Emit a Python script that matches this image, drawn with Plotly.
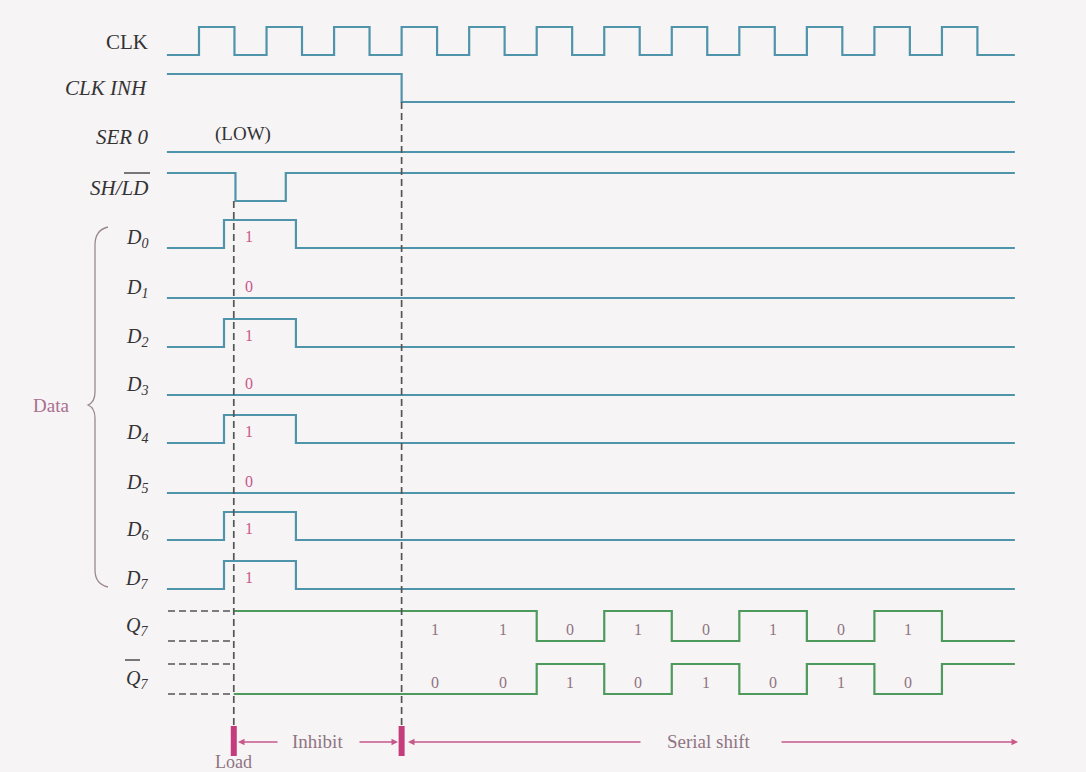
import plotly.graph_objects as go

# ---------------- data ----------------
T_START, T_END = -0.95, 24.16
CLK_TIMES = [-0.95, 0, 1.05, 2, 3.05, 4, 5.05, 6, 7.05, 8, 9.05, 10, 11.05,
             12, 13.05, 14, 15.05, 16, 17.05, 18, 19.05, 20, 21.05, 22, 23.05, 24.16]
CLK_LEVELS = [0, 1, 0, 1, 0, 1, 0, 1, 0, 1, 0, 1, 0,
              1, 0, 1, 0, 1, 0, 1, 0, 1, 0, 1, 0, 0]
INH_TIMES = [-0.95, 6.0, 24.16]
INH_LEVELS = [1, 0, 0]
SER_TIMES = [-0.95, 24.16]
SER_LEVELS = [0, 0]
SHLD_TIMES = [-0.95, 1.08, 2.57, 24.16]
SHLD_LEVELS = [1, 0, 1, 1]
DATA_NAMES = ["D<sub>0</sub>", "D<sub>1</sub>", "D<sub>2</sub>", "D<sub>3</sub>",
              "D<sub>4</sub>", "D<sub>5</sub>", "D<sub>6</sub>", "D<sub>7</sub>"]
DATA_BITS = [1, 0, 1, 0, 1, 0, 1, 1]
D_PULSE = [0.74, 2.87]
LOAD_T = 1.03
INHIBIT_END_T = 6.0
SHIFT_EDGES = [6, 8, 10, 12, 14, 16, 18, 20, 22]
SERIAL_BITS = [1, 1, 0, 1, 0, 1, 0, 1]
Q7_AFTER = 0

# ---------------- layout constants ----------------
W, H = 1086, 772
T0_PX, PX_PER_T = 199.0, 33.77


def tx(px):
    return (px - T0_PX) / PX_PER_T


BLUE = "#4f94aa"
GREEN = "#4e9a5c"
DASH_C = "#555555"
PINK = "#c8588a"
MAG = "#c43c7c"
LBL = "#333333"
GREYPINK = "#8f7482"

ROW_LOW = {"CLK": 55, "INH": 102, "SER": 152, "SHLD": 201}
D_LOW = [248, 298, 347, 395, 443, 493, 540, 589]
AMP = 28
Q7_LOW, Q7B_LOW, Q_AMP = 641, 694, 30

fig = go.Figure()


def wave(times, levels, low, amp, color, dash="solid", width=2.2):
    fig.add_trace(go.Scatter(
        x=times, y=[low - amp * v for v in levels], mode="lines",
        line=dict(color=color, width=width, shape="hv", dash=dash),
        hoverinfo="skip", showlegend=False))


wave(CLK_TIMES, CLK_LEVELS, ROW_LOW["CLK"], AMP, BLUE)
wave(INH_TIMES, INH_LEVELS, ROW_LOW["INH"], AMP, BLUE)
wave(SER_TIMES, SER_LEVELS, ROW_LOW["SER"], AMP, BLUE)
wave(SHLD_TIMES, SHLD_LEVELS, ROW_LOW["SHLD"], AMP, BLUE)

for i, b in enumerate(DATA_BITS):
    if b:
        wave([T_START, D_PULSE[0], D_PULSE[1], T_END], [0, 1, 0, 0], D_LOW[i], AMP, BLUE)
    else:
        wave([T_START, T_END], [0, 0], D_LOW[i], AMP, BLUE)

# Q7 / Q7bar
q_times = [LOAD_T] + SHIFT_EDGES + [T_END]
q_levels = [DATA_BITS[7]] + SERIAL_BITS + [Q7_AFTER, Q7_AFTER]
wave(q_times, q_levels, Q7_LOW, Q_AMP, GREEN)
wave(q_times, [1 - v for v in q_levels], Q7B_LOW, Q_AMP, GREEN)
# unknown lead-in (dashed)
for low in (Q7_LOW, Q7B_LOW):
    for lvl in (0, 1):
        fig.add_trace(go.Scatter(
            x=[tx(168), LOAD_T], y=[low - Q_AMP * lvl] * 2, mode="lines",
            line=dict(color=DASH_C, width=1.7, dash="7px,4px"),
            hoverinfo="skip", showlegend=False))

# vertical dashed markers
for t, y0 in ((LOAD_T, ROW_LOW["SHLD"]), (INHIBIT_END_T, ROW_LOW["INH"])):
    fig.add_trace(go.Scatter(
        x=[t, t], y=[y0, 728], mode="lines",
        line=dict(color=DASH_C, width=1.7, dash="7px,4px"),
        hoverinfo="skip", showlegend=False))
    fig.add_trace(go.Scatter(
        x=[t, t], y=[726, 756], mode="lines",
        line=dict(color=MAG, width=6),
        hoverinfo="skip", showlegend=False))

ann = []
SERIF = "Liberation Serif"


def label(text, y, italic=True, size=21):
    ann.append(dict(x=tx(150), y=y, text=(f"<i>{text}</i>" if italic else text),
                    xanchor="right", yanchor="middle", showarrow=False,
                    font=dict(family=SERIF, size=size, color=LBL)))


label("CLK", 42, italic=False)
label("CLK INH", 88)
label("SER 0", 137)
label("SH/LD", 188)
for i, nm in enumerate(DATA_NAMES):
    label(nm, D_LOW[i] - 10, size=20)
label("Q<sub>7</sub>", 626, size=20)
label("Q<sub>7</sub>", 679, size=20)

ann.append(dict(x=tx(243), y=134, text="(LOW)", showarrow=False,
                font=dict(family=SERIF, size=19, color=LBL)))

for i, b in enumerate(DATA_BITS):
    ann.append(dict(x=tx(249), y=D_LOW[i] - 12, text=str(b), showarrow=False,
                    font=dict(family=SERIF, size=16, color=PINK)))

for k, b in enumerate(SERIAL_BITS):
    tc = (SHIFT_EDGES[k] + SHIFT_EDGES[k + 1]) / 2
    ann.append(dict(x=tc, y=Q7_LOW - 12, text=str(b), showarrow=False,
                    font=dict(family=SERIF, size=16, color=GREYPINK)))
    ann.append(dict(x=tc, y=Q7B_LOW - 12, text=str(1 - b), showarrow=False,
                    font=dict(family=SERIF, size=16, color=GREYPINK)))

# Data brace label
ann.append(dict(x=tx(51), y=405, text="Data", showarrow=False,
                font=dict(family=SERIF, size=19, color="#a8708e")))

# bottom annotations
ann.append(dict(x=LOAD_T, y=762, text="Load", showarrow=False,
                font=dict(family=SERIF, size=18, color=GREYPINK)))
ann.append(dict(x=(LOAD_T + INHIBIT_END_T) / 2, y=741, text="Inhibit", showarrow=False,
                font=dict(family=SERIF, size=19, color=GREYPINK)))
ann.append(dict(x=tx(709), y=741, text="Serial shift", showarrow=False,
                font=dict(family=SERIF, size=19, color=GREYPINK)))


def arrow(x_from, x_to, y=742):
    ann.append(dict(x=x_to, y=y, ax=x_from, ay=y, xref="x", yref="y",
                    axref="x", ayref="y", text="", showarrow=True,
                    arrowhead=2, arrowsize=1.0, arrowwidth=1.3, arrowcolor=PINK))


arrow(tx(279), tx(238))
arrow(tx(358), tx(398))
arrow(tx(642), tx(408))
arrow(tx(780), tx(1018))

shapes = []
# overlines for SH/LD and Q7bar
shapes.append(dict(type="line", xref="x", yref="y", x0=tx(124), x1=tx(150),
                   y0=173, y1=173, line=dict(color=LBL, width=1.3)))
shapes.append(dict(type="line", xref="x", yref="y", x0=tx(125), x1=tx(140),
                   y0=660, y1=660, line=dict(color=LBL, width=1.3)))
# brace
bx = tx(95)
path = (f"M {tx(108)},227 Q {bx},230 {bx},245 L {bx},392 Q {bx},402 {tx(88)},405 "
        f"Q {bx},408 {bx},418 L {bx},570 Q {bx},584 {tx(108)},587")
shapes.append(dict(type="path", xref="x", yref="y", path=path,
                   line=dict(color="#9a8890", width=1.3)))

fig.update_layout(
    width=W, height=H, autosize=False,
    margin=dict(l=0, r=0, t=0, b=0),
    paper_bgcolor="#f7f4f6", plot_bgcolor="#f7f4f6",
    xaxis=dict(range=[tx(0), tx(W)], visible=False, fixedrange=True),
    yaxis=dict(range=[H, 0], visible=False, fixedrange=True),
    annotations=ann, shapes=shapes, showlegend=False,
)
fig.write_html("out.html", config={"displayModeBar": False},
               post_script="document.body.style.margin='0';document.body.style.overflow='hidden';")
